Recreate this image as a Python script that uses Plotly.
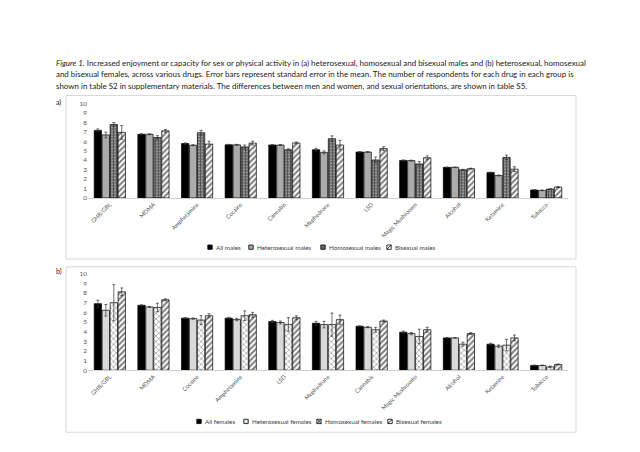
import plotly.graph_objects as go

# ---------------- data ----------------
male_drugs = ["GHB/GBL", "MDMA", "Amphetamine", "Cocaine", "Cannabis", "Mephedrone",
              "LSD", "Magic Mushrooms", "Alcohol", "Ketamine", "Tobacco"]
male_all    = [7.15, 6.74, 5.75, 5.62, 5.60, 5.10, 4.86, 3.97, 3.24, 2.68, 0.84]
male_het    = [6.67, 6.74, 5.58, 5.62, 5.60, 4.82, 4.86, 3.95, 3.24, 2.37, 0.80]
male_hom    = [7.78, 6.39, 6.90, 5.40, 5.10, 6.27, 4.02, 3.60, 2.98, 4.29, 0.94]
male_bi     = [6.94, 7.10, 5.70, 5.80, 5.82, 5.60, 5.22, 4.25, 3.10, 3.05, 1.15]
male_all_e  = [0.15, 0.05, 0.07, 0.05, 0.05, 0.15, 0.05, 0.05, 0.03, 0.05, 0.03]
male_het_e  = [0.30, 0.05, 0.05, 0.05, 0.05, 0.15, 0.05, 0.05, 0.03, 0.05, 0.03]
male_hom_e  = [0.20, 0.20, 0.25, 0.20, 0.10, 0.30, 0.30, 0.25, 0.05, 0.25, 0.05]
male_bi_e   = [0.73, 0.15, 0.30, 0.20, 0.10, 0.50, 0.20, 0.20, 0.05, 0.25, 0.05]

female_drugs = ["GHB/GBL", "MDMA", "Cocaine", "Amphetamine", "LSD", "Mephedrone",
                "Cannabis", "Magic Mushrooms", "Alcohol", "Ketamine", "Tobacco"]
fem_all    = [6.90, 6.73, 5.40, 5.40, 5.05, 4.87, 4.56, 3.95, 3.35, 2.70, 0.50]
fem_het    = [6.22, 6.56, 5.35, 5.25, 4.95, 4.73, 4.46, 3.80, 3.35, 2.50, 0.50]
fem_hom    = [7.00, 6.50, 5.20, 5.65, 4.75, 4.73, 4.20, 3.50, 2.70, 2.60, 0.35]
fem_bi     = [8.13, 7.30, 5.65, 5.75, 5.44, 5.24, 5.10, 4.20, 3.80, 3.35, 0.60]
fem_all_e  = [0.37, 0.05, 0.05, 0.08, 0.12, 0.20, 0.05, 0.10, 0.03, 0.10, 0.03]
fem_het_e  = [0.60, 0.05, 0.07, 0.12, 0.15, 0.34, 0.05, 0.12, 0.03, 0.12, 0.03]
fem_hom_e  = [1.87, 0.44, 0.45, 0.50, 0.70, 1.20, 0.25, 0.75, 0.20, 0.60, 0.08]
fem_bi_e   = [0.40, 0.10, 0.20, 0.25, 0.20, 0.48, 0.10, 0.25, 0.10, 0.30, 0.05]

male_names = ["All males", "Heterosexual males", "Homosexual males", "Bisexual males"]
fem_names = ["All females", "Heterosexual females", "Homosexual females", "Bisexual females"]

caption_lines = [
    "<i>Figure 1.</i> Increased enjoyment or capacity for sex or physical activity in (a) heterosexual, homosexual and bisexual males and (b) heterosexual, homosexual",
    "and bisexual females, across various drugs. Error bars represent standard error in the mean. The number of respondents for each drug in each group is",
    "shown in table S2 in supplementary materials. The differences between men and women, and sexual orientations, are shown in table S5.",
]

W, H = 640, 452
FONT = "Lato, 'Open Sans', sans-serif"


def px_x(p):
    return p / W


def px_y(p):
    return 1 - p / H


fig = go.Figure()

male_styles = [
    dict(color="black", pattern=None),
    dict(color="#ababab", pattern=None),
    dict(color="white", pattern=dict(shape="+", fgcolor="#111111", bgcolor="#999999", size=3, solidity=0.55)),
    dict(color="white", pattern=dict(shape="/", fgcolor="black", bgcolor="white", size=4, solidity=0.5)),
]
fem_styles = [
    dict(color="black", pattern=None),
    dict(color="#d9d9d9", pattern=None),
    dict(color="white", pattern=dict(shape="x", fgcolor="#222222", bgcolor="white", size=4, solidity=0.3)),
    dict(color="white", pattern=dict(shape="/", fgcolor="black", bgcolor="white", size=4, solidity=0.5)),
]


def add_group(drugs, vals, errs, names, styles, xa, ya):
    for v, e, n, s in zip(vals, errs, names, styles):
        marker = dict(color=s["color"], line=dict(color="black", width=0.7))
        if s["pattern"] is not None:
            marker["pattern"] = s["pattern"]
        fig.add_trace(go.Bar(
            x=drugs, y=v, name=n, marker=marker, showlegend=False,
            error_y=dict(type="data", array=e, visible=True, color="#333333", thickness=0.7, width=1.5),
            xaxis=xa, yaxis=ya,
        ))


add_group(male_drugs, [male_all, male_het, male_hom, male_bi],
          [male_all_e, male_het_e, male_hom_e, male_bi_e], male_names, male_styles, "x", "y")
add_group(female_drugs, [fem_all, fem_het, fem_hom, fem_bi],
          [fem_all_e, fem_het_e, fem_hom_e, fem_bi_e], fem_names, fem_styles, "x2", "y2")

xdom = [px_x(88), px_x(568)]
yaxis_common = dict(range=[0, 10], dtick=1, showgrid=False, showline=False, zeroline=False,
                    tickfont=dict(size=6.5, color="#595959", family=FONT), ticks="", ticklen=0)
xaxis_common = dict(showgrid=False, showline=True, linecolor="#d0d0d0", linewidth=1,
                    tickangle=-45, tickfont=dict(size=5.8, color="#555555", family=FONT), ticks="")

fig.update_layout(
    width=W, height=H,
    margin=dict(l=0, r=0, t=0, b=0),
    paper_bgcolor="white", plot_bgcolor="white",
    barmode="group", bargap=0.27, bargroupgap=0.08,
    font=dict(family=FONT, size=7, color="#333333"),
    xaxis=dict(domain=xdom, anchor="y", **xaxis_common),
    yaxis=dict(domain=[px_y(197), px_y(101)], anchor="x", **yaxis_common),
    xaxis2=dict(domain=xdom, anchor="y2", **xaxis_common),
    yaxis2=dict(domain=[px_y(372), px_y(274)], anchor="x2", **yaxis_common),
    showlegend=False,
)

# panel borders
for (x0, y0, x1, y1) in [(66, 93, 576, 259), (66, 267, 576, 435)]:
    fig.add_shape(type="rect", xref="paper", yref="paper",
                  x0=px_x(x0), x1=px_x(x1), y0=px_y(y1), y1=px_y(y0),
                  line=dict(color="#d9d9d9", width=1), fillcolor="rgba(0,0,0,0)", layer="below")

# caption
for i, line in enumerate(caption_lines):
    fig.add_annotation(text=line, xref="paper", yref="paper", x=px_x(54), y=px_y(60 + i * 11.5),
                       xanchor="left", yanchor="middle", showarrow=False,
                       font=dict(size=7.95, color="#1a1a1a", family=FONT))

# panel labels
for lab, yy in [("a)", 100), ("b)", 272)]:
    fig.add_annotation(text=lab, xref="paper", yref="paper", x=px_x(54), y=px_y(yy),
                       xanchor="left", yanchor="middle", showarrow=False,
                       font=dict(size=7, color="#1a1a1a", family=FONT))


# legends (small square keys + text)
def legend_key(cx, cy, kind):
    s = 2.2
    x0, x1 = px_x(cx - s), px_x(cx + s)
    y0, y1 = px_y(cy + s), px_y(cy - s)
    fill = {"all": "black", "het_m": "#ababab", "het_f": "#e6e6e6",
            "hom_m": "#666666", "hom_f": "white", "bi": "white"}[kind]
    fig.add_shape(type="rect", xref="paper", yref="paper", x0=x0, x1=x1, y0=y0, y1=y1,
                  line=dict(color="black", width=0.8), fillcolor=fill)
    if kind in ("hom_f", "bi"):
        fig.add_shape(type="line", xref="paper", yref="paper", x0=x0, x1=x1, y0=y0, y1=y1,
                      line=dict(color="black", width=0.8))
    if kind == "hom_f":
        fig.add_shape(type="line", xref="paper", yref="paper", x0=x0, x1=x1, y0=y1, y1=y0,
                      line=dict(color="black", width=0.8))


male_leg_x = [210, 251, 323, 389]
fem_leg_x = [199, 246, 319, 390]
for names, xs, yy, kinds in [
    (male_names, male_leg_x, 247, ["all", "het_m", "hom_m", "bi"]),
    (fem_names, fem_leg_x, 424, ["all", "het_f", "hom_f", "bi"]),
]:
    for n, xx, k in zip(names, xs, kinds):
        legend_key(xx, yy, k)
        fig.add_annotation(text=n, xref="paper", yref="paper", x=px_x(xx + 3.5), y=px_y(yy),
                           xanchor="left", yanchor="middle", showarrow=False,
                           font=dict(size=6.3, color="#404040", family=FONT))

fig.write_html("out.html", config={"displayModeBar": False},
               post_script="document.body.style.margin='0';")
